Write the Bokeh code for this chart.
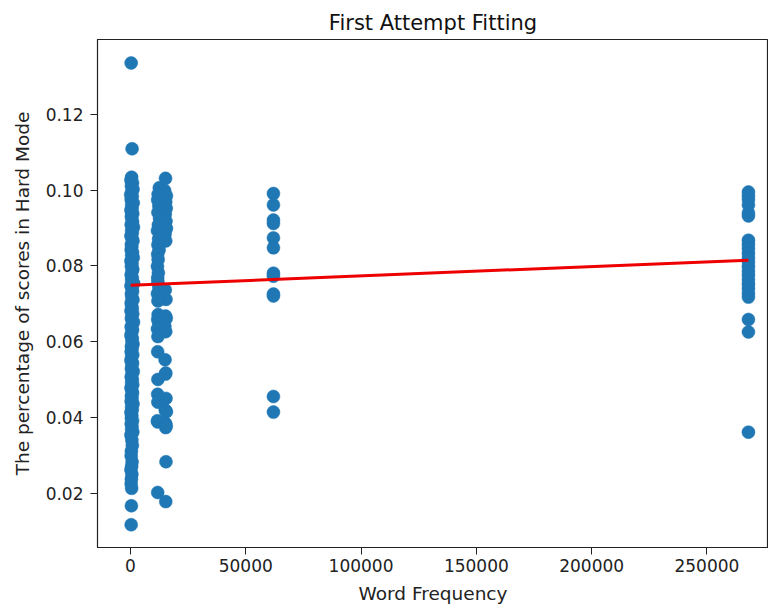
from bokeh.plotting import figure
from bokeh.models import FixedTicker, Range1d
from bokeh.embed import file_html
from bokeh.resources import INLINE

# ---- data ----
# cluster near zero frequency
a_freq = [300, 700, 500, 200, 900, 400, 1100, 600, 100, 800, 300, 1200, 500, 700, 200,
          1000, 400, 600, 900, 300, 1300, 500, 800, 200, 700, 1100, 400, 600, 300, 900,
          500, 1200, 200, 700, 400, 1000, 600, 300, 800, 500, 1400, 200, 700, 900, 400,
          600, 1100, 300, 500, 800, 200, 1000, 600, 400, 1300, 700, 300, 900, 500, 200,
          800, 600, 1100, 400, 700, 300, 1000, 500, 200, 900, 600, 400, 1200, 700, 300,
          800, 500, 1000, 200, 600, 900, 400, 700, 300, 1100, 500, 800, 200, 600, 400,
          900, 300, 700, 500, 1000, 200, 600, 800, 400, 300, 700, 500, 200, 600, 400,
          300, 500, 400, 300]
a_pct = [0.1335, 0.1109, 0.1034, 0.1026, 0.1019, 0.1011, 0.1002, 0.0997, 0.0988, 0.0983,
         0.0975, 0.0966, 0.0961, 0.0952, 0.0947, 0.0938, 0.0931, 0.0925, 0.0916, 0.0909,
         0.0902, 0.0893, 0.0887, 0.0879, 0.0872, 0.0866, 0.0857, 0.0851, 0.0843, 0.0836,
         0.0828, 0.0822, 0.0813, 0.0806, 0.0799, 0.0791, 0.0785, 0.0776, 0.0769, 0.0763,
         0.0754, 0.0748, 0.0739, 0.0733, 0.0726, 0.0717, 0.0711, 0.0703, 0.0696, 0.0688,
         0.0682, 0.0674, 0.0667, 0.0661, 0.0652, 0.0645, 0.0639, 0.0631, 0.0624, 0.0617,
         0.0609, 0.0603, 0.0594, 0.0588, 0.0581, 0.0573, 0.0566, 0.0559, 0.0551, 0.0544,
         0.0537, 0.0529, 0.0522, 0.0516, 0.0508, 0.0501, 0.0493, 0.0487, 0.0479, 0.0472,
         0.0465, 0.0457, 0.0451, 0.0443, 0.0436, 0.0428, 0.0421, 0.0414, 0.0406, 0.0399,
         0.0392, 0.0384, 0.0377, 0.0369, 0.0362, 0.0354, 0.0341, 0.0327, 0.0312, 0.0299,
         0.0284, 0.0272, 0.0263, 0.0251, 0.0238, 0.0226, 0.0214, 0.0168, 0.0118]

# cluster around 12k-15k
b_freq = [15200, 12500, 14800, 12000, 15600, 11800, 15300, 12300, 15500, 11900, 15100,
          12600, 15400, 12100, 15600, 11700, 15000, 12200, 15300, 11900, 12400, 11800,
          12000, 11700, 12100, 11800, 11900, 12300, 11700, 15100, 15400, 11900, 12000,
          15200, 11800, 15500, 12300, 14900, 11700, 15300, 11900, 11800, 15000, 15300,
          15200, 11900, 11800, 15400, 11900, 15100, 15600, 11800, 15300, 15200, 11700,
          15500, 15400, 11800, 15300]
b_pct = [0.1031, 0.1006, 0.0999, 0.0989, 0.0985, 0.0974, 0.0969, 0.0958, 0.0952, 0.0941,
         0.0936, 0.0925, 0.0918, 0.0908, 0.0899, 0.0893, 0.0884, 0.0871, 0.0866, 0.0856,
         0.0842, 0.0831, 0.0817, 0.0799, 0.0782, 0.0768, 0.0757, 0.0744, 0.0727, 0.0737,
         0.0712, 0.0708, 0.0672, 0.0668, 0.0659, 0.0662, 0.0649, 0.0641, 0.0634, 0.0627,
         0.0614, 0.0574, 0.0553, 0.0518, 0.0515, 0.0501, 0.0462, 0.0451, 0.0441, 0.0420,
         0.0416, 0.0389, 0.0374, 0.0385, 0.0392, 0.0379, 0.0284, 0.0203, 0.0179]

# cluster around 62k
c_freq = [62000] * 12
c_pct = [0.0991, 0.0961, 0.0921, 0.0912, 0.0874, 0.0848, 0.0781, 0.0773, 0.0726, 0.0721,
         0.0456, 0.0415]

# cluster around 268k
d_freq = [268000] * 23
d_pct = [0.0995, 0.0985, 0.0975, 0.0961, 0.0940, 0.0932, 0.0868, 0.0857, 0.0846, 0.0834,
         0.0822, 0.0811, 0.0799, 0.0787, 0.0776, 0.0764, 0.0752, 0.0741, 0.0729, 0.0718,
         0.0659, 0.0626, 0.0362]

# fitted line (first attempt)
fit_intercept = 0.0749
fit_slope = 2.48e-8

x_ticks = [0, 50000, 100000, 150000, 200000, 250000]
y_ticks = [0.02, 0.04, 0.06, 0.08, 0.10, 0.12]

n = min(len(a_freq), len(a_pct))
freq = a_freq[:n] + b_freq + c_freq + d_freq
pct = a_pct[:n] + b_pct + c_pct + d_pct

fit_x = [min(freq), max(freq)]
fit_y = [fit_intercept + fit_slope * v for v in fit_x]

FONT = "DejaVu Sans"

p = figure(width=768, height=606, output_backend="svg", toolbar_location=None,
           x_range=Range1d(-14300, 276700), y_range=Range1d(0.0058, 0.1397),
           min_border_left=97, min_border_right=0, min_border_top=39, min_border_bottom=58,
           background_fill_color="white", border_fill_color="white")

p.title.text = "First Attempt Fitting"
p.title.align = "center"
p.title.text_font = FONT
p.title.text_font_size = "21px"
p.title.text_font_style = "normal"
p.title.text_color = "#111111"

p.scatter(freq, pct, size=13, fill_color="#1f77b4", line_color="#1f77b4", line_width=0.5)
p.line(fit_x, fit_y, line_color="#ee0000", line_width=3)

p.xgrid.visible = False
p.ygrid.visible = False
p.outline_line_color = "#222222"
p.outline_line_width = 1.2

p.xaxis.ticker = FixedTicker(ticks=x_ticks)
p.xaxis.major_label_overrides = {t: str(t) for t in x_ticks}
p.yaxis.ticker = FixedTicker(ticks=y_ticks)
p.yaxis.major_label_overrides = {t: "%.2f" % t for t in y_ticks}

p.xaxis.axis_label = "Word Frequency"
p.yaxis.axis_label = "The percentage of scores in Hard Mode"

for ax in (p.xaxis[0], p.yaxis[0]):
    ax.axis_line_color = "#222222"
    ax.major_tick_line_color = "#222222"
    ax.major_tick_in = 0
    ax.major_tick_out = 7
    ax.minor_tick_line_color = None
    ax.major_label_text_font = FONT
    ax.major_label_text_font_size = "17px"
    ax.major_label_text_color = "#222222"
    ax.axis_label_text_font = FONT
    ax.axis_label_text_font_size = "18.5px"
    ax.axis_label_text_font_style = "normal"
    ax.axis_label_text_color = "#222222"

p.xaxis.major_label_standoff = 4
p.yaxis.major_label_standoff = 7
p.xaxis.axis_label_standoff = 8
p.yaxis.axis_label_standoff = 10

open("out.html", "w").write(file_html(p, INLINE))
